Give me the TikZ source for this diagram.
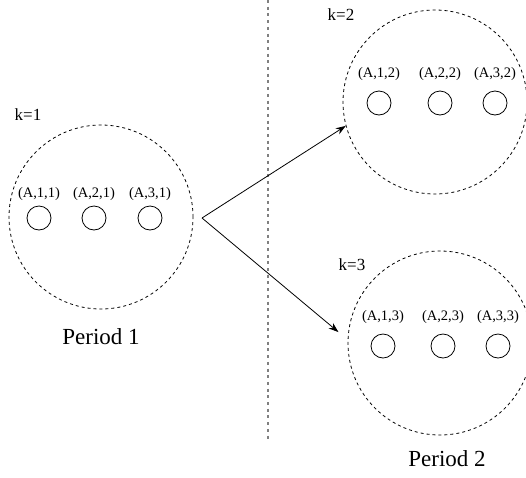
\documentclass[tikz,border=0pt]{standalone}
\usepackage{fontspec}
\setmainfont{Liberation Serif}
\usetikzlibrary{arrows.meta}
\tikzset{
  pset/.style={circle, draw, dash pattern=on 3pt off 3pt, minimum size=184pt, inner sep=0pt},
  unit/.style={circle, draw, minimum size=24pt, inner sep=0pt},
  ulab/.style={font=\fontsize{14.5}{16}\selectfont, inner sep=1pt},
  klab/.style={font=\fontsize{17}{20}\selectfont},
  plab/.style={font=\fontsize{23}{26}\selectfont},
}

\begin{document}
\begin{tikzpicture}[x=1pt, y=-1pt, line width=0.8pt]
  \clip (0,0) rectangle (526,477);

  % scenario sets
  \node[pset] (S1) at (101,217) {};
  \node[pset] (S2) at (435,102) {};
  \node[pset] (S3) at (440,343) {};

  \node[klab] (k1) at (28,115) {k=1};
  \node[klab] (k2) at (341,15) {k=2};
  \node[klab] (k3) at (352,265) {k=3};

  % units inside each set
  \foreach \i/\x in {1/39,2/94,3/150}
    \node[unit, label={[ulab, label distance=4pt]above:(A,\i,1)}] (u\i1) at (\x,218) {};
  \foreach \i/\x in {1/379,2/440,3/495}
    \node[unit, label={[ulab, label distance=9pt]above:(A,\i,2)}] (u\i2) at (\x,103) {};
  \foreach \i/\x in {1/383,2/443,3/498}
    \node[unit, label={[ulab, label distance=9pt]above:(A,\i,3)}] (u\i3) at (\x,346) {};

  % period boundary
  \draw[gray, line width=1.2pt, dash pattern=on 3pt off 3.7pt] (268,0) -- (268,440);

  \node[plab] (per1) at (101,337) {Period 1};
  \node[plab] (per2) at (447,459) {Period 2};

  % branching
  \coordinate (fork) at (202,218);
  \draw[-{Stealth[length=10pt, width=7pt]}] (fork) -- (S2.195);
  \draw[-{Stealth[length=10pt, width=7pt]}, shorten >=12pt] (fork) -- (S3.178);
\end{tikzpicture}
\end{document}
